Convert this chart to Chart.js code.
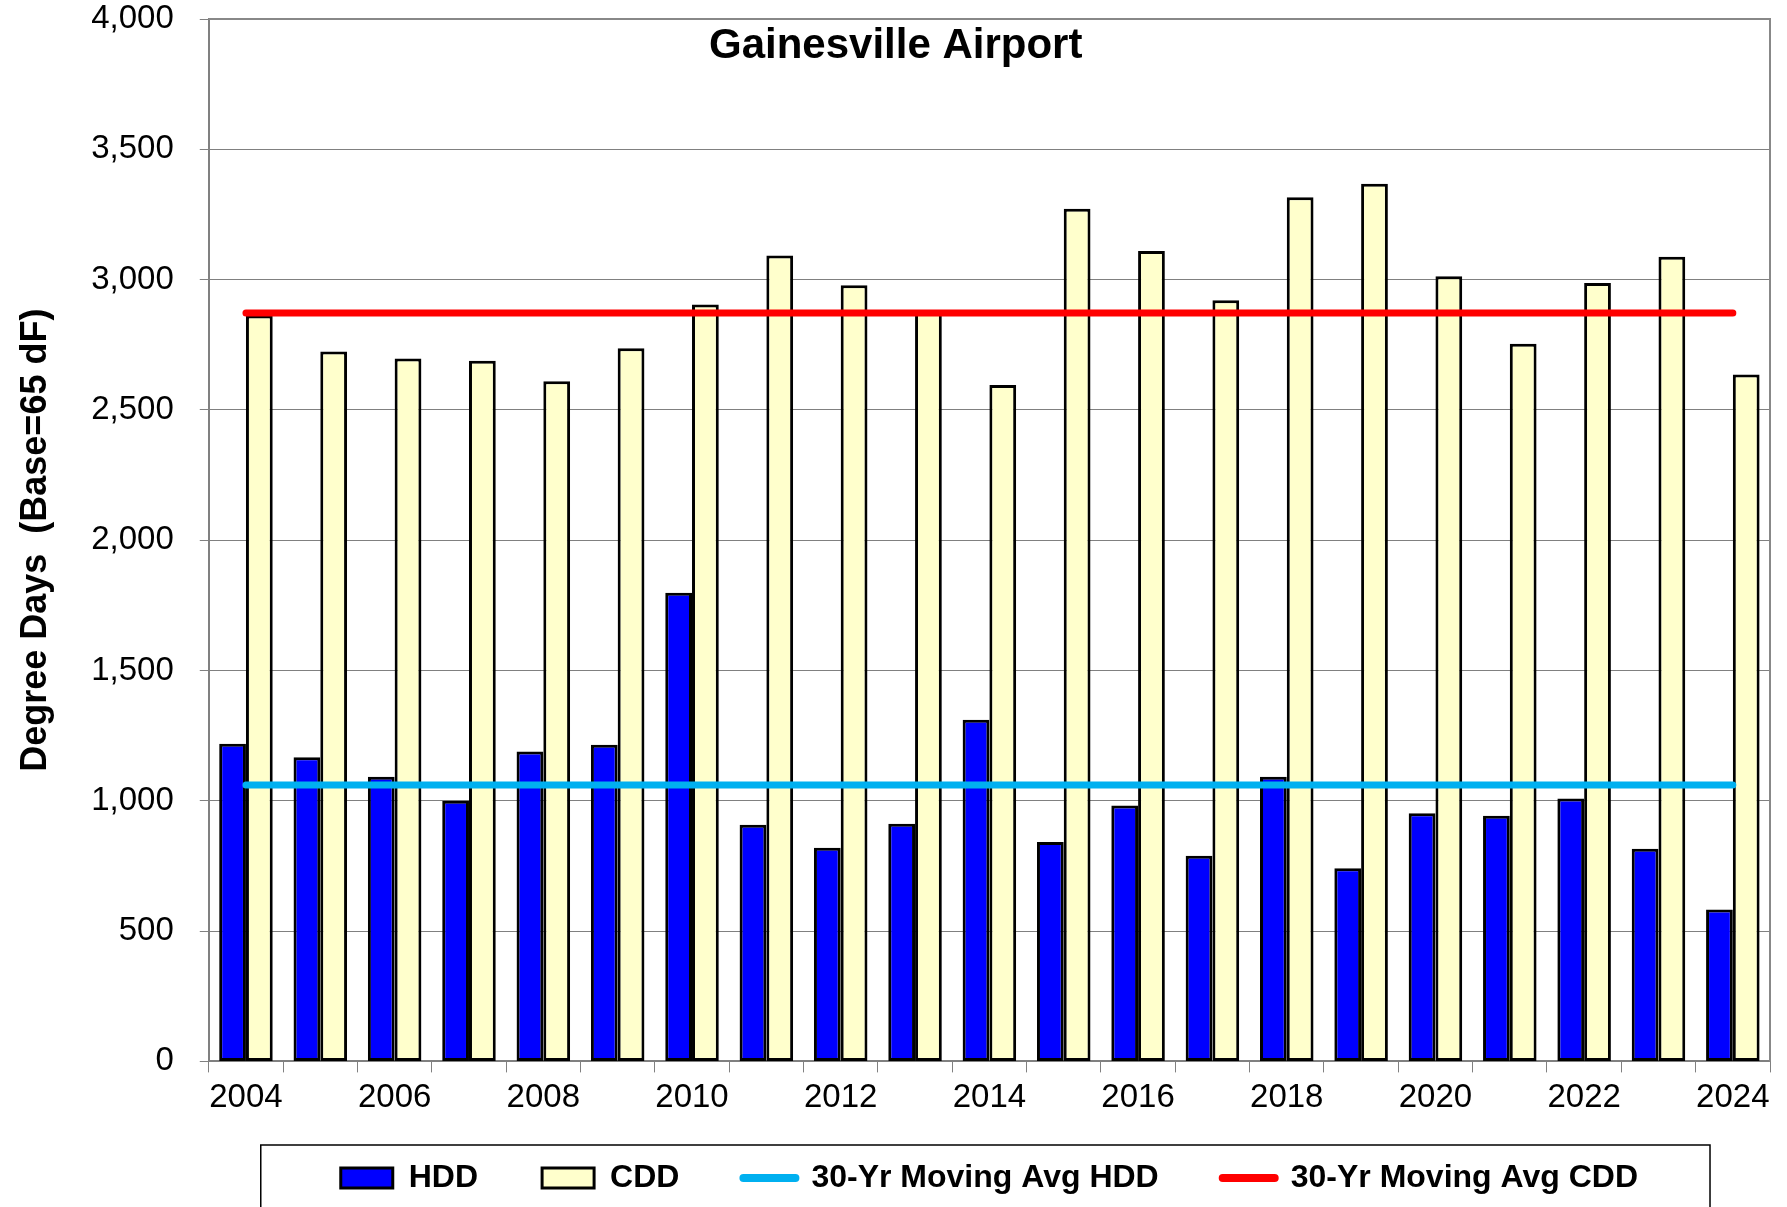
<!DOCTYPE html>
<html>
<head>
<meta charset="utf-8">
<script src="https://cdn.jsdelivr.net/npm/chart.js@4/dist/chart.umd.min.js"></script>
<style>
  html, body { margin: 0; padding: 0; background: #fff; }
  #wrap { width: 1787px; height: 1207px; }
</style>
</head>
<body>
<div id="wrap"><canvas id="chart" width="1787" height="1207"></canvas></div>
<script>
// Gainesville Airport annual degree days
const years = ['2004', '2005', '2006', '2007', '2008', '2009', '2010', '2011', '2012', '2013', '2014',
  '2015', '2016', '2017', '2018', '2019', '2020', '2021', '2022', '2023', '2024'];
const hdd = [1219, 1167, 1092, 1000, 1189, 1215, 1798, 908, 820, 912, 1311,
  842, 982, 789, 1092, 741, 952, 943, 1009, 816, 583];
const cdd = [2862, 2724, 2697, 2689, 2610, 2737, 2904, 3092, 2978, 2882, 2596,
  3272, 3110, 2921, 3316, 3368, 3013, 2754, 2987, 3088, 2636];
const hddAvg30 = [1061, 1061, 1061, 1061, 1061, 1061, 1061, 1061, 1061, 1061, 1061,
  1061, 1061, 1061, 1061, 1061, 1061, 1061, 1061, 1061, 1061];
const cddAvg30 = [2872, 2872, 2872, 2872, 2872, 2872, 2872, 2872, 2872, 2872, 2872,
  2872, 2872, 2872, 2872, 2872, 2872, 2872, 2872, 2872, 2872];

const FONT = "'Liberation Sans', Arial, sans-serif";
const LEGEND_LIFT = 26;

// title sits inside the plot area, the plot gets a gray frame,
// and the legend is pulled up a bit closer to the year labels
const framePlugin = {
  id: 'frame',
  afterLayout(chart) {
    chart.legend.top -= LEGEND_LIFT;
    chart.legend.bottom -= LEGEND_LIFT;
  },
  beforeDatasetsDraw(chart) {
    const { ctx, chartArea: a } = chart;
    ctx.save();
    ctx.strokeStyle = '#888888';
    ctx.lineWidth = 2;
    ctx.beginPath();
    ctx.moveTo(a.left, a.top);
    ctx.lineTo(a.right, a.top);
    ctx.lineTo(a.right, a.bottom);
    ctx.stroke();
    ctx.restore();
  },
  afterDraw(chart) {
    const { ctx, chartArea: a } = chart;
    ctx.save();
    ctx.fillStyle = '#000';
    ctx.font = 'bold 42px ' + FONT;
    ctx.textAlign = 'center';
    ctx.textBaseline = 'middle';
    ctx.fillText('Gainesville Airport', a.left + a.width * 0.44, a.top + 27);

    // box around the legend, open at the bottom edge
    const boxes = chart.legend.legendHitBoxes;
    if (boxes && boxes.length) {
      const last = boxes[boxes.length - 1];
      const l = boxes[0].left - 80;
      const r = last.left + last.width + 72;
      const t = boxes[0].top + boxes[0].height / 2 - 33;
      ctx.strokeStyle = '#000';
      ctx.lineWidth = 1.5;
      ctx.beginPath();
      ctx.moveTo(l, chart.height + 5);
      ctx.lineTo(l, t);
      ctx.lineTo(r, t);
      ctx.lineTo(r, chart.height + 5);
      ctx.stroke();
    }
    ctx.restore();
  }
};

new Chart(document.getElementById('chart'), {
  type: 'bar',
  data: {
    labels: years,
    datasets: [
      {
        label: 'HDD',
        data: hdd,
        backgroundColor: '#0000FF',
        borderColor: '#000000',
        borderWidth: 3,
        borderSkipped: false,
        order: 1
      },
      {
        label: 'CDD',
        data: cdd,
        backgroundColor: '#FFFFCC',
        borderColor: '#000000',
        borderWidth: 3,
        borderSkipped: false,
        order: 1
      },
      {
        type: 'line',
        label: '30-Yr Moving Avg HDD',
        data: hddAvg30,
        borderColor: '#00B0F0',
        backgroundColor: '#00B0F0',
        borderWidth: 7,
        borderCapStyle: 'round',
        pointRadius: 0,
        fill: false,
        order: 0
      },
      {
        type: 'line',
        label: '30-Yr Moving Avg CDD',
        data: cddAvg30,
        borderColor: '#FF0000',
        backgroundColor: '#FF0000',
        borderWidth: 7,
        borderCapStyle: 'round',
        pointRadius: 0,
        fill: false,
        order: 0
      }
    ]
  },
  options: {
    responsive: false,
    animation: false,
    datasets: {
      bar: { barPercentage: 1.0, categoryPercentage: 0.72 }
    },
    layout: { padding: { top: 0, right: 17, left: 14, bottom: 3 - LEGEND_LIFT } },
    scales: {
      x: {
        grid: {
          display: true,
          drawOnChartArea: false,
          offset: true,
          color: '#808080',
          tickLength: 11
        },
        border: { color: '#808080', width: 2 },
        ticks: {
          autoSkip: false,
          maxRotation: 0,
          color: '#000',
          font: { family: FONT, size: 33 },
          padding: 6,
          callback: function (v, i) { return i % 2 === 0 ? years[i] : ''; }
        }
      },
      y: {
        min: 0,
        max: 4000,
        ticks: {
          stepSize: 500,
          color: '#000',
          font: { family: FONT, size: 33 },
          padding: 26,
          callback: v => v.toLocaleString('en-US')
        },
        grid: { color: '#808080', lineWidth: 1, tickLength: 9 },
        border: { color: '#808080', width: 2 },
        title: {
          display: true,
          text: 'Degree Days  (Base=65 dF)',
          color: '#000',
          font: { family: FONT, size: 36, weight: 'bold' },
          padding: { top: 0, bottom: 8 }
        },
        // the wide label gap should not push the plot top down
        afterFit: function (scale) {
          scale.paddingTop = 19;
          scale.paddingBottom = 19;
        }
      }
    },
    plugins: {
      tooltip: { enabled: false },
      title: { display: false },
      legend: {
        position: 'bottom',
        fullSize: false,
        labels: {
          usePointStyle: true,
          pointStyleWidth: 52,
          boxHeight: 20,
          padding: 64,
          color: '#000',
          font: { family: FONT, size: 32, weight: 'bold' },
          sort: (a, b) => a.datasetIndex - b.datasetIndex,
          generateLabels: function (chart) {
            return chart.data.datasets.map((ds, i) => {
              const isLine = ds.type === 'line';
              return {
                text: ds.label,
                datasetIndex: i,
                fillStyle: ds.backgroundColor,
                strokeStyle: isLine ? ds.borderColor : '#000',
                lineWidth: isLine ? 8 : 3,
                lineCap: 'round',
                pointStyle: isLine ? 'line' : 'rect',
                hidden: false,
                fontColor: '#000'
              };
            });
          }
        }
      }
    }
  },
  plugins: [framePlugin]
});
</script>
</body>
</html>
